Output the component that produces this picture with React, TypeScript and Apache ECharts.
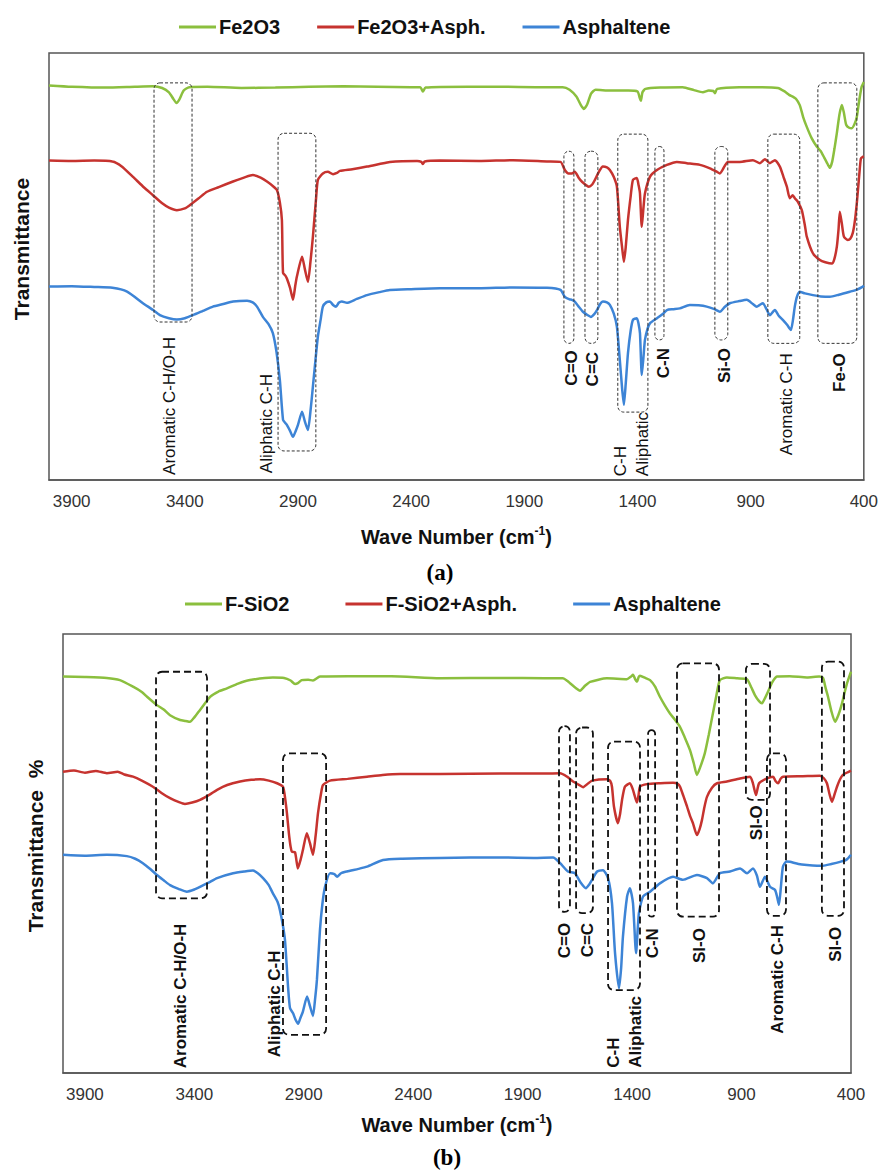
import React, { useEffect, useRef } from 'react';
import * as echarts from 'echarts';

// ---------- axis ----------
const X_MIN = 400;
const X_MAX = 4000;
const X_STEP = 500;

// ---------- panel (a) spectra: [wave number, offset transmittance] ----------
const fe2o3: number[][] = [
  [4000, 92.4], [3900, 92.1], [3750, 91.9], [3620, 92.1], [3540, 92.2], [3500, 91.8], [3470, 90.8], [3450, 89.2],
  [3437, 88.3], [3425, 89.0], [3405, 91.2], [3380, 92.0], [3300, 92.1], [3150, 91.8], [3000, 91.9], [2850, 92.1],
  [2700, 92.2], [2550, 92.1], [2400, 92.0], [2360, 92.0], [2348, 91.0], [2336, 91.9], [2150, 92.1], [2000, 92.1],
  [1850, 92.0], [1730, 92.0], [1700, 91.4], [1670, 89.8], [1650, 87.8], [1637, 86.9], [1622, 88.0], [1605, 90.5],
  [1585, 91.4], [1520, 91.2], [1440, 91.2], [1400, 91.0], [1390, 89.5], [1385, 88.8], [1378, 90.8], [1365, 91.6],
  [1300, 91.9], [1200, 92.0], [1150, 91.3], [1111, 90.8], [1085, 91.2], [1065, 91.1], [1058, 90.6], [1048, 91.6],
  [950, 92.0], [850, 92.0], [780, 91.8], [750, 91.0], [730, 90.2], [714, 89.8], [700, 89.3], [683, 87.8],
  [668, 85.0], [652, 82.7], [630, 80.0], [608, 78.1], [590, 77.0], [575, 75.5], [560, 74.0], [550, 73.1],
  [540, 74.5], [530, 77.5], [519, 81.3], [508, 85.5], [497, 87.8], [488, 86.0], [478, 83.2], [465, 82.5],
  [453, 82.4], [440, 83.5], [431, 85.0], [420, 89.0], [410, 92.0], [400, 93.2],
];

const fe2o3Asph: number[][] = [
  [4000, 74.8], [3900, 74.7], [3800, 74.8], [3720, 74.6], [3680, 73.5], [3629, 71.0], [3580, 68.5], [3541, 66.7],
  [3500, 64.8], [3470, 63.8], [3435, 63.2], [3400, 63.6], [3377, 64.4], [3340, 65.9], [3302, 67.5], [3250, 68.6],
  [3187, 69.9], [3130, 71.0], [3099, 71.4], [3065, 70.8], [3037, 69.9], [3010, 68.8], [2993, 67.9], [2980, 65.0],
  [2971, 60.9], [2966, 48.5], [2955, 47.8], [2949, 47.2], [2935, 45.0], [2922, 42.2], [2912, 45.5], [2905, 47.6],
  [2882, 52.3], [2870, 49.5], [2856, 46.4], [2845, 51.0], [2834, 57.0], [2820, 66.0], [2812, 70.3], [2790, 71.8],
  [2768, 72.2], [2745, 71.6], [2728, 71.9], [2715, 72.4], [2660, 72.8], [2595, 73.4], [2540, 74.0], [2494, 74.5],
  [2374, 74.7], [2355, 74.5], [2348, 74.0], [2340, 74.6], [2273, 74.8], [2100, 74.7], [1950, 74.9], [1800, 74.6],
  [1740, 74.5], [1721, 72.6], [1705, 71.8], [1690, 71.8], [1677, 72.2], [1660, 70.8], [1646, 69.9], [1615, 68.7],
  [1600, 69.2], [1588, 70.3], [1570, 72.2], [1553, 73.4], [1535, 73.2], [1522, 72.6], [1505, 71.0], [1491, 68.7],
  [1478, 59.3], [1468, 54.5], [1460, 51.1], [1452, 54.5], [1442, 60.9], [1430, 66.5], [1420, 70.3], [1403, 70.7],
  [1395, 69.0], [1389, 67.1], [1381, 59.3], [1374, 63.5], [1367, 67.1], [1345, 71.0], [1314, 72.6], [1270, 73.8],
  [1226, 74.5], [1182, 74.2], [1124, 73.8], [1080, 73.0], [1050, 72.2], [1036, 71.8], [1015, 73.5], [1001, 74.5],
  [948, 74.5], [890, 74.9], [859, 74.2], [837, 75.1], [815, 74.2], [793, 74.9], [771, 73.4], [755, 71.0],
  [740, 68.7], [727, 66.0], [714, 66.7], [705, 66.0], [692, 65.2], [674, 63.2], [660, 59.5], [652, 57.0],
  [625, 53.1], [594, 51.5], [570, 51.0], [541, 50.7], [530, 51.8], [519, 54.7], [512, 58.5], [506, 62.8],
  [497, 60.0], [488, 57.0], [471, 56.2], [460, 56.5], [449, 57.8], [440, 60.5], [431, 64.8], [420, 71.5],
  [413, 75.3], [404, 75.7], [400, 75.8],
];

const asphalteneA: number[][] = [
  [4000, 45.3], [3900, 45.4], [3800, 45.2], [3720, 45.0], [3655, 44.1], [3585, 41.4], [3540, 39.8], [3510, 38.6],
  [3470, 37.9], [3435, 37.6], [3400, 37.9], [3364, 38.6], [3320, 39.6], [3276, 40.6], [3230, 41.2], [3187, 41.8],
  [3125, 42.0], [3100, 41.6], [3081, 40.6], [3055, 38.2], [3030, 36.5], [3011, 34.4], [2995, 30.0], [2980, 23.4],
  [2966, 14.1], [2955, 13.3], [2949, 12.9], [2935, 11.5], [2922, 10.1], [2910, 11.5], [2900, 12.9], [2882, 16.0],
  [2870, 13.8], [2856, 11.7], [2845, 16.0], [2834, 21.9], [2822, 28.5], [2812, 33.6], [2800, 37.5], [2790, 40.6],
  [2775, 41.6], [2759, 41.8], [2745, 41.0], [2732, 40.6], [2720, 41.5], [2706, 41.8], [2684, 41.5], [2640, 42.4],
  [2595, 43.3], [2540, 44.0], [2494, 44.5], [2400, 44.7], [2273, 44.9], [2100, 44.9], [1950, 45.1], [1800, 45.0],
  [1740, 44.5], [1721, 42.9], [1700, 42.3], [1690, 42.2], [1677, 41.8], [1660, 40.6], [1641, 39.4], [1620, 38.6],
  [1606, 38.2], [1590, 38.9], [1579, 39.8], [1565, 41.2], [1553, 41.8], [1535, 41.6], [1522, 41.0], [1505, 39.0],
  [1491, 35.9], [1478, 28.1], [1468, 21.5], [1460, 17.6], [1452, 22.5], [1442, 29.7], [1430, 35.0], [1420, 37.5],
  [1403, 37.9], [1395, 36.5], [1389, 34.4], [1381, 24.6], [1374, 28.5], [1367, 32.8], [1355, 35.5], [1345, 36.7],
  [1314, 37.9], [1290, 38.8], [1270, 39.8], [1240, 40.0], [1213, 40.2], [1169, 41.0], [1130, 40.9], [1094, 40.6],
  [1060, 40.0], [1036, 39.4], [1015, 40.5], [992, 41.4], [950, 41.9], [917, 42.2], [890, 41.2], [873, 40.6],
  [860, 41.0], [846, 41.4], [830, 40.0], [815, 38.6], [800, 39.5], [793, 39.8], [775, 38.4], [758, 37.5],
  [740, 36.4], [728, 35.5], [722, 35.1], [713, 37.5], [705, 40.6], [695, 43.0], [683, 44.1], [660, 43.7],
  [625, 43.3], [590, 43.0], [550, 42.9], [510, 43.4], [462, 44.1], [430, 44.6], [404, 45.3], [400, 45.5],
];

// ---------- panel (b) spectra ----------
const fSiO2: number[][] = [
  [4000, 90.3], [3900, 90.2], [3800, 90.0], [3740, 89.5], [3680, 88.0], [3640, 86.8], [3616, 85.7], [3571, 83.8],
  [3540, 82.8], [3511, 81.5], [3465, 80.4], [3440, 80.2], [3420, 80.0], [3400, 81.0], [3374, 82.7], [3328, 85.7],
  [3290, 86.9], [3251, 87.6], [3200, 88.7], [3146, 89.5], [3041, 90.1], [2990, 90.0], [2960, 89.4], [2940, 88.6],
  [2927, 88.8], [2910, 89.5], [2880, 89.6], [2858, 89.4], [2826, 90.3], [2700, 90.4], [2500, 90.4], [2278, 89.9],
  [2000, 90.0], [1800, 89.9], [1716, 89.9], [1695, 89.3], [1684, 88.8], [1660, 87.8], [1638, 87.1], [1615, 88.2],
  [1592, 89.1], [1515, 89.9], [1424, 89.7], [1405, 90.3], [1396, 90.7], [1385, 89.6], [1378, 89.1], [1370, 90.2],
  [1364, 90.5], [1340, 90.0], [1318, 89.5], [1295, 88.0], [1273, 85.7], [1250, 83.7], [1227, 81.9], [1205, 80.5],
  [1182, 78.9], [1160, 76.5], [1136, 73.6], [1118, 70.5], [1104, 67.9], [1090, 69.5], [1068, 72.8], [1050, 77.0],
  [1031, 81.9], [1015, 86.0], [999, 89.5], [967, 90.1], [920, 89.9], [875, 89.7], [855, 87.8], [839, 86.1],
  [820, 84.7], [807, 84.2], [795, 85.2], [779, 86.9], [760, 89.0], [738, 90.3], [680, 90.4], [601, 90.1],
  [545, 90.3], [528, 90.0], [515, 87.5], [505, 85.7], [490, 82.5], [473, 80.0], [458, 81.5], [441, 84.2],
  [430, 86.5], [418, 88.8], [408, 90.3], [400, 91.4],
];

const fSiO2Asph: number[][] = [
  [4000, 68.6], [3950, 68.9], [3900, 68.4], [3850, 68.8], [3800, 68.3], [3750, 68.6], [3720, 68.0], [3680, 67.5],
  [3640, 66.6], [3589, 65.2], [3550, 63.8], [3511, 62.6], [3470, 61.7], [3443, 61.3], [3410, 61.6], [3374, 62.2],
  [3330, 63.4], [3296, 64.5], [3250, 65.6], [3191, 66.4], [3140, 66.8], [3100, 66.9], [3060, 66.6], [3022, 66.0],
  [2995, 65.2], [2985, 62.5], [2977, 59.2], [2968, 54.6], [2960, 51.5], [2954, 50.4], [2940, 50.3], [2927, 46.6],
  [2915, 48.5], [2904, 50.8], [2886, 54.6], [2872, 52.4], [2858, 49.7], [2846, 54.0], [2835, 59.2], [2820, 64.0],
  [2812, 65.6], [2780, 66.6], [2700, 67.0], [2611, 67.5], [2540, 67.9], [2460, 68.1], [2278, 68.1], [2000, 68.2],
  [1800, 68.2], [1729, 68.3], [1697, 67.5], [1670, 66.4], [1645, 65.7], [1624, 65.1], [1600, 66.0], [1583, 66.6],
  [1515, 66.9], [1500, 66.5], [1492, 65.2], [1483, 60.7], [1465, 56.9], [1455, 59.0], [1446, 62.2], [1433, 65.2],
  [1410, 66.0], [1396, 64.5], [1378, 61.6], [1370, 63.5], [1364, 65.2], [1332, 65.8], [1270, 66.0], [1213, 66.1],
  [1190, 65.8], [1181, 65.2], [1165, 63.0], [1149, 60.7], [1135, 58.5], [1122, 56.9], [1104, 54.2], [1092, 55.5],
  [1081, 57.6], [1070, 60.5], [1058, 62.9], [1035, 65.0], [1012, 66.0], [967, 66.4], [907, 67.1], [861, 67.5],
  [848, 66.0], [834, 63.3], [820, 66.0], [784, 67.1], [756, 67.5], [745, 66.5], [733, 66.0], [722, 67.0],
  [711, 67.5], [620, 67.6], [542, 67.7], [525, 67.2], [510, 66.0], [498, 63.5], [487, 61.8], [475, 63.5],
  [464, 65.2], [450, 66.9], [437, 67.9], [420, 68.4], [400, 68.9],
];

const asphalteneB: number[][] = [
  [4000, 49.7], [3900, 49.5], [3800, 49.7], [3708, 49.4], [3670, 48.8], [3635, 47.8], [3600, 46.4], [3571, 45.1],
  [3540, 43.9], [3511, 42.8], [3470, 41.9], [3434, 41.3], [3400, 41.8], [3374, 42.4], [3330, 43.5], [3296, 44.4],
  [3223, 45.5], [3170, 45.9], [3132, 46.1], [3110, 45.5], [3086, 44.4], [3060, 42.8], [3041, 40.9], [3020, 39.0],
  [3009, 37.1], [2995, 33.5], [2986, 30.3], [2978, 24.5], [2972, 19.7], [2963, 14.8], [2949, 13.6], [2938, 12.2],
  [2926, 11.2], [2915, 12.6], [2904, 14.0], [2885, 17.4], [2872, 15.3], [2858, 13.0], [2848, 17.0], [2840, 21.2],
  [2826, 32.6], [2815, 38.5], [2803, 42.4], [2780, 45.5], [2760, 45.3], [2748, 44.7], [2730, 45.5], [2703, 45.9],
  [2650, 46.5], [2611, 47.0], [2538, 48.5], [2450, 48.8], [2278, 49.0], [2000, 49.1], [1850, 49.0], [1761, 49.1],
  [1729, 47.8], [1693, 45.9], [1661, 45.5], [1638, 43.6], [1611, 42.1], [1595, 43.0], [1583, 44.0], [1560, 45.9],
  [1533, 46.2], [1510, 44.4], [1492, 38.7], [1478, 27.3], [1460, 19.3], [1450, 24.0], [1442, 31.0], [1423, 40.2],
  [1410, 42.1], [1396, 38.7], [1382, 27.3], [1369, 36.4], [1350, 40.2], [1318, 41.3], [1273, 43.2], [1213, 44.7],
  [1168, 44.0], [1104, 45.1], [1058, 44.4], [1031, 43.2], [999, 45.5], [953, 45.9], [907, 46.6], [875, 45.5],
  [848, 46.6], [830, 45.0], [816, 42.4], [793, 44.7], [770, 42.4], [747, 41.7], [737, 40.0], [729, 38.3],
  [720, 42.5], [711, 47.0], [695, 48.2], [679, 48.1], [640, 47.6], [601, 47.4], [528, 47.2], [490, 47.6],
  [450, 48.1], [420, 48.6], [400, 49.7],
];

// ---------- band annotation boxes: [high wn, top value, low wn, bottom value] ----------
const bandBoxesA: number[][] = [
  [3536, 93.0, 3368, 37.0], [2988, 81.2, 2821, 6.8], [1725, 77.0, 1681, 32.0], [1632, 77.0, 1575, 32.0],
  [1487, 81.0, 1354, 15.9], [1323, 78.1, 1283, 32.8], [1058, 78.1, 1001, 32.8], [824, 81.0, 683, 32.0],
  [603, 93.0, 431, 32.0],
];
const bandBoxesB: number[][] = [
  [3575, 91.4, 3342, 39.8], [2995, 72.8, 2798, 8.7], [1734, 79.0, 1684, 36.7], [1656, 78.7, 1579, 36.4],
  [1510, 75.5, 1364, 18.9], [1327, 78.1, 1295, 35.6], [1195, 93.3, 1003, 35.6], [880, 93.2, 770, 62.2],
  [784, 72.8, 697, 35.8], [533, 93.7, 432, 35.8],
];

// ---------- band labels ----------
const bandTextA = ['Aromatic C-H/O-H', 'Aliphatic C-H', 'C=O', 'C=C', 'C-H\nAliphatic', 'C-N', 'Si-O', 'Aromatic C-H', 'Fe-O'];
const bandWnA = [3466, 3037, 1690, 1597, 1427, 1283, 1014, 740, 506];
const bandValA = [1.2, 1.6, 30.4, 30.0, 0.9, 30.9, 30.9, 29.7, 29.7];
const bandFromBottomA = [true, true, false, false, true, false, false, false, false];

const bandTextB = ['Aromatic C-H/O-H', 'Aliphatic C-H', 'C=O', 'C=C', 'C-H\nAliphatic', 'C-N', 'SI-O', 'SI-O', 'Aromatic C-H', 'SI-O'];
const bandWnB = [3465, 3032, 1707, 1606, 1437, 1305, 1090, 830, 734, 473];
const bandValB = [1.1, 3.6, 34.2, 34.2, 1.2, 33.0, 33.0, 61.0, 33.7, 33.3];
const bandFromBottomB = [true, true, false, false, true, false, false, false, false, false];

const legendA = ['Fe2O3', 'Fe2O3+Asph.', 'Asphaltene'];
const legendB = ['F-SiO2', 'F-SiO2+Asph.', 'Asphaltene'];

const FONT = '"Liberation Sans", Arial, Helvetica, sans-serif';
const SERIF = '"Liberation Serif", "Times New Roman", serif';
const GREEN = '#8BBF3E';
const RED = '#C6332F';
const BLUE = '#3D84D6';

function lineSeries(name: string, data: number[][], color: string, idx: number) {
  return {
    type: 'line',
    name,
    data,
    xAxisIndex: idx,
    yAxisIndex: idx,
    showSymbol: false,
    symbol: 'none',
    smooth: 0.2,
    color,
    lineStyle: { color, width: 2.5 },
    itemStyle: { color },
    silent: true,
    z: 2,
  };
}

function boxSeries(boxes: number[][], idx: number, stroke: string, lineWidth: number, dash: number[]) {
  return {
    type: 'custom',
    xAxisIndex: idx,
    yAxisIndex: idx,
    silent: true,
    z: 4,
    encode: { x: [0, 2], y: [1, 3] },
    data: boxes,
    renderItem: (_p: any, api: any) => {
      const a = api.coord([api.value(0), api.value(1)]);
      const b = api.coord([api.value(2), api.value(3)]);
      const x = Math.min(a[0], b[0]);
      const y = Math.min(a[1], b[1]);
      return {
        type: 'rect',
        shape: { x, y, width: Math.abs(b[0] - a[0]), height: Math.abs(b[1] - a[1]), r: 6 },
        style: { fill: 'none', stroke, lineWidth, lineDash: dash },
      };
    },
  };
}

function labelSeries(texts: string[], wn: number[], val: number[], fromBottom: boolean[], idx: number,
  weightFn: (t: string) => string, size: number) {
  return {
    type: 'custom',
    xAxisIndex: idx,
    yAxisIndex: idx,
    silent: true,
    z: 5,
    data: wn.map((w, i) => [w, val[i], i]),
    renderItem: (_p: any, api: any) => {
      const i = api.value(2);
      const p = api.coord([api.value(0), api.value(1)]);
      return {
        type: 'text',
        x: p[0],
        y: p[1],
        rotation: Math.PI / 2,
        style: {
          text: texts[i],
          fill: '#111',
          fontSize: size,
          fontWeight: weightFn(texts[i]),
          fontFamily: FONT,
          align: fromBottom[i] ? 'left' : 'right',
          verticalAlign: 'middle',
          lineHeight: 22,
        },
      };
    },
  };
}

function xAxis(gridIndex: number, nameGap: number) {
  return {
    type: 'value',
    gridIndex,
    inverse: true,
    min: X_MIN,
    max: X_MAX,
    interval: X_STEP,
    axisLine: { show: true, onZero: false, lineStyle: { color: '#555', width: 1.5 } },
    axisTick: { show: false },
    splitLine: { show: false },
    axisLabel: {
      show: true,
      interval: 0,
      color: '#333',
      fontSize: 17,
      fontFamily: FONT,
      margin: 13,
      formatter: (v: number) => (v === X_MAX ? '' : String(v)),
    },
    name: '{t|Wave Number (cm}{s|-1}{t|)}',
    nameLocation: 'middle',
    nameGap,
    nameTextStyle: {
      rich: {
        t: { fontSize: 20, fontWeight: 'bold', color: '#111', fontFamily: FONT, lineHeight: 24 },
        s: { fontSize: 12, fontWeight: 'bold', color: '#111', fontFamily: FONT, lineHeight: 24, verticalAlign: 'top' },
      },
    },
  };
}

function legend(data: string[], left: number, top: number, itemGap: number) {
  return {
    data,
    left,
    top,
    icon: 'rect',
    itemWidth: 37,
    itemHeight: 3,
    itemGap,
    selectedMode: false,
    textStyle: { fontSize: 20, fontWeight: 'bold', color: '#111', fontFamily: FONT, padding: [0, 0, 0, -2] },
  };
}

function buildOption() {
  const shortBold = (t: string) => (t.length <= 4 ? 'bold' : 'normal');
  return {
    animation: false,
    backgroundColor: '#fff',
    legend: [legend(legendA, 174, 12, 37), legend(legendB, 180, 589, 56)],
    grid: [
      { left: 49, top: 53, width: 815, height: 427, show: true, borderColor: '#555', borderWidth: 1.5, containLabel: false },
      { left: 63, top: 634, width: 788, height: 439, show: true, borderColor: '#555', borderWidth: 1.5, containLabel: false },
    ],
    xAxis: [xAxis(0, 45), xAxis(1, 40)],
    yAxis: [
      { type: 'value', gridIndex: 0, min: 0, max: 100, show: false },
      { type: 'value', gridIndex: 1, min: 0, max: 100, show: false },
    ],
    series: [
      lineSeries(legendA[0], fe2o3, GREEN, 0),
      lineSeries(legendA[1], fe2o3Asph, RED, 0),
      lineSeries(legendA[2], asphalteneA, BLUE, 0),
      lineSeries(legendB[0], fSiO2, GREEN, 1),
      lineSeries(legendB[1], fSiO2Asph, RED, 1),
      lineSeries(legendB[2], asphalteneB, BLUE, 1),
      boxSeries(bandBoxesA, 0, '#333', 1, [3, 2]),
      boxSeries(bandBoxesB, 1, '#111', 1.8, [7, 4]),
      labelSeries(bandTextA, bandWnA, bandValA, bandFromBottomA, 0, shortBold, 17),
      labelSeries(bandTextB, bandWnB, bandValB, bandFromBottomB, 1, () => 'bold', 17),
    ],
    graphic: [
      {
        type: 'text', x: 21, y: 249, rotation: Math.PI / 2, silent: true,
        style: { text: 'Transmittance', fontSize: 21, fontWeight: 'bold', fontFamily: FONT, fill: '#111', align: 'center', verticalAlign: 'middle' },
      },
      {
        type: 'text', x: 35, y: 846, rotation: Math.PI / 2, silent: true,
        style: { text: 'Transmittance  %', fontSize: 21, fontWeight: 'bold', fontFamily: FONT, fill: '#111', align: 'center', verticalAlign: 'middle' },
      },
      {
        type: 'text', x: 440, y: 572, silent: true,
        style: { text: '(a)', fontSize: 23, fontWeight: 'bold', fontFamily: SERIF, fill: '#000', align: 'center', verticalAlign: 'middle' },
      },
      {
        type: 'text', x: 447, y: 1157, silent: true,
        style: { text: '(b)', fontSize: 23, fontWeight: 'bold', fontFamily: SERIF, fill: '#000', align: 'center', verticalAlign: 'middle' },
      },
    ],
  };
}

export default function App() {
  const ref = useRef<HTMLDivElement>(null);
  useEffect(() => {
    if (!ref.current) return;
    const chart = echarts.init(ref.current, null, { renderer: 'svg' });
    chart.setOption(buildOption() as any);
    return () => chart.dispose();
  }, []);
  return (
    <div
      ref={ref}
      style={{ position: 'absolute', left: 0, top: 0, width: 881, height: 1175, background: '#fff' }}
    />
  );
}
